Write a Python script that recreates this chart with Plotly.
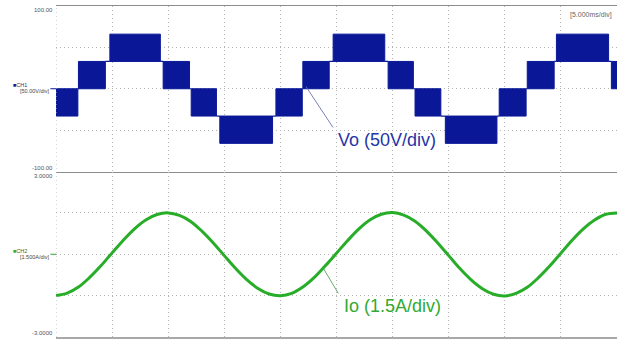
import plotly.graph_objects as go
from plotly.subplots import make_subplots

# ---- time base: 10 divisions of 5 ms ----
time_range_ms = [0, 50]
time_div_ms = 5

# ---- CH1: output voltage, PWM bands (start ms, end ms, low V, high V) ----
band_start_ms = [0.0, 2.0, 4.8, 9.55, 12.05, 14.6, 19.6, 22.0, 24.7, 29.6, 32.0, 34.7, 39.5, 42.0, 44.6, 49.5]
band_end_ms = [1.95, 4.4, 9.3, 11.9, 14.3, 19.3, 21.95, 24.35, 29.3, 31.85, 34.3, 39.3, 41.9, 44.4, 49.25, 50.0]
band_low_v = [-33, 0, 33, 0, -33, -66, -33, 0, 33, 0, -33, -66, -33, 0, 33, 0]
band_high_v = [0, 33, 66, 33, 0, -33, 0, 33, 66, 33, 0, -33, 0, 33, 66, 33]

# ---- CH2: load current, sampled every 1 ms ----
current_t_ms = list(range(0, 51))
current_a = [
    -1.50, -1.41, -1.19, -0.84, -0.42, 0.05, 0.51, 0.92, 1.24, 1.44,
    1.50, 1.41, 1.19, 0.84, 0.42, -0.05, -0.51, -0.92, -1.24, -1.44,
    -1.50, -1.42, -1.19, -0.85, -0.42, 0.04, 0.50, 0.92, 1.25, 1.45,
    1.51, 1.42, 1.20, 0.85, 0.42, -0.05, -0.52, -0.93, -1.25, -1.45,
    -1.51, -1.42, -1.20, -0.85, -0.43, 0.04, 0.51, 0.92, 1.24, 1.45,
    1.50,
]

# ---- channel scales ----
ch1_range = [-100, 100]
ch1_div = 50
ch2_range = [-3, 3]
ch2_div = 1.5

# ---- callouts (data coordinates) ----
vo_label = "Vo (50V/div)"
vo_text_pos = (29.47, -62.3)
vo_leader = ([22.29, 24.69], [2.5, -46.8])
io_label = "Io (1.5A/div)"
io_text_pos = (29.98, -1.87)
io_leader = ([23.83, 25.16], [-0.51, -1.42])

BLUE = "#0a1898"
GREEN = "#27ad27"
GRID = "#b4b4b4"
FRAME = "#8c8c8c"
FONT = "Liberation Sans, Arial, sans-serif"

fig = make_subplots(rows=2, cols=1, shared_xaxes=True, vertical_spacing=0)

# filled PWM bands
bx, by = [], []
for t0, t1, lo, hi in zip(band_start_ms, band_end_ms, band_low_v, band_high_v):
    bx += [t0, t1, t1, t0, t0, None]
    by += [lo, lo, hi, hi, lo, None]
fig.add_trace(go.Scatter(x=bx, y=by, mode="lines", fill="toself", fillcolor=BLUE,
                         line=dict(color=BLUE, width=1), hoverinfo="skip"), row=1, col=1)

# steady level between neighbouring bands
cx, cy = [], []
for i in range(len(band_start_ms) - 1):
    shared = set([band_low_v[i], band_high_v[i]]) & set([band_low_v[i + 1], band_high_v[i + 1]])
    if shared:
        lvl = shared.pop()
        cx += [band_end_ms[i], band_start_ms[i + 1], None]
        cy += [lvl, lvl, None]
fig.add_trace(go.Scatter(x=cx, y=cy, mode="lines", line=dict(color=BLUE, width=1.2),
                         hoverinfo="skip"), row=1, col=1)

# load current
fig.add_trace(go.Scatter(x=current_t_ms, y=current_a, mode="lines",
                         line=dict(color=GREEN, width=3, shape="spline", smoothing=1),
                         hoverinfo="skip"), row=2, col=1)

# callout leaders
fig.add_trace(go.Scatter(x=vo_leader[0], y=vo_leader[1], mode="lines",
                         line=dict(color="#6a73b0", width=0.9), hoverinfo="skip"), row=1, col=1)
fig.add_trace(go.Scatter(x=io_leader[0], y=io_leader[1], mode="lines",
                         line=dict(color="#5c9c5c", width=0.9), hoverinfo="skip"), row=2, col=1)

xgrid = dict(range=time_range_ms, tick0=0, dtick=time_div_ms, showgrid=True, gridcolor=GRID,
             gridwidth=1, griddash="1px,3px", showticklabels=False, ticks="", zeroline=False)
fig.update_xaxes(**xgrid, showline=True, mirror=True, linecolor=FRAME, linewidth=1.2, row=1, col=1)
fig.update_xaxes(**xgrid, showline=True, linecolor="#a8a8a8", linewidth=2.5, row=2, col=1)
ygrid = dict(showgrid=True, gridcolor=GRID, gridwidth=1, griddash="1px,3px",
             showticklabels=False, ticks="", zeroline=False, showline=False, tick0=0)
fig.update_yaxes(**ygrid, range=ch1_range, dtick=ch1_div, row=1, col=1)
fig.update_yaxes(**ygrid, range=ch2_range, dtick=ch2_div, row=2, col=1)

# dotted left edge
fig.add_shape(type="line", xref="x", yref="paper", x0=0, x1=0, y0=0, y1=1,
              line=dict(color=GRID, width=1, dash="1px,3px"))
# channel reference ticks
fig.add_shape(type="line", xref="paper", yref="y", x0=-0.01, x1=0, y0=0, y1=0,
              line=dict(color=BLUE, width=1))
fig.add_shape(type="line", xref="paper", yref="y2", x0=-0.01, x1=0, y0=0, y1=0,
              line=dict(color=GREEN, width=1))

small = dict(family=FONT, size=6, color="#555555")
ann = []
ann.append(dict(text=f"{ch1_range[1]:.2f}", xref="paper", x=0, xanchor="right", xshift=-1,
                yref="y domain", y=1, yanchor="top", yshift=1, font=small))
ann.append(dict(text=f"{ch1_range[0]:.2f}", xref="paper", x=0, xanchor="right", xshift=-1,
                yref="y domain", y=0, yanchor="bottom", yshift=-1, font=small))
ann.append(dict(text=f"{ch2_range[1]:.4f}", xref="paper", x=0, xanchor="right", xshift=-1,
                yref="y2 domain", y=1, yanchor="top", yshift=1, font=small))
ann.append(dict(text=f"{ch2_range[0]:.4f}", xref="paper", x=0, xanchor="right", xshift=-1,
                yref="y2 domain", y=0, yanchor="bottom", yshift=-1, font=small))
# channel tags
ann.append(dict(text=f"<span style='color:{BLUE}'>■</span>CH1", xref="paper", x=0, xanchor="right",
                xshift=-27, yref="y", y=0, yanchor="middle", yshift=3.5, align="left",
                font=dict(family=FONT, size=5.5, color="#333366")))
ann.append(dict(text=f"[{ch1_div:.2f}V/div]", xref="paper", x=0, xanchor="right", xshift=-4,
                yref="y", y=0, yanchor="middle", yshift=-2.5,
                font=dict(family=FONT, size=5.5, color="#444444")))
ann.append(dict(text=f"<span style='color:{GREEN}'>■</span>CH2", xref="paper", x=0, xanchor="right",
                xshift=-27, yref="y2", y=0, yanchor="middle", yshift=3, align="left",
                font=dict(family=FONT, size=5.5, color="#336633")))
ann.append(dict(text=f"[{ch2_div:.3f}A/div]", xref="paper", x=0, xanchor="right", xshift=-4,
                yref="y2", y=0, yanchor="middle", yshift=-2.5,
                font=dict(family=FONT, size=5.5, color="#444444")))
# timebase
ann.append(dict(text=f"[{time_div_ms:.3f}ms/div]", xref="paper", x=1, xanchor="right", xshift=-3,
                yref="paper", y=1, yanchor="top", yshift=-3,
                font=dict(family=FONT, size=7, color="#666666")))
# callouts
ann.append(dict(text=vo_label, xref="x", yref="y", x=vo_text_pos[0], y=vo_text_pos[1],
                showarrow=False, font=dict(family=FONT, size=18, color="#2635a6")))
ann.append(dict(text=io_label, xref="x2", yref="y2", x=io_text_pos[0], y=io_text_pos[1],
                showarrow=False, font=dict(family=FONT, size=18, color="#30aa30")))
for a in ann:
    a.setdefault("showarrow", False)
fig.update_layout(annotations=ann)

fig.update_layout(
    width=619, height=339,
    margin=dict(l=55.5, r=1.5, t=6, b=2),
    paper_bgcolor="white", plot_bgcolor="white",
    showlegend=False,
)

fig.write_html("out.html")
